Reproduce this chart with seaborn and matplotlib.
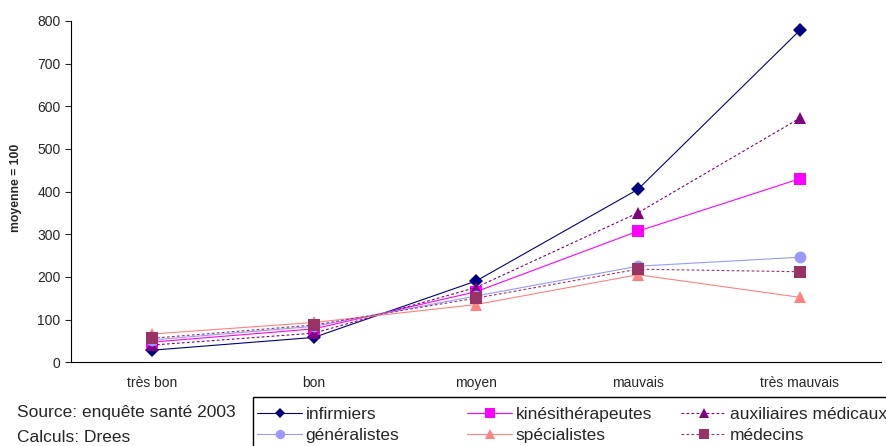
import matplotlib
matplotlib.use("Agg")
import matplotlib.pyplot as plt
from matplotlib.patches import Rectangle
import seaborn as sns
import pandas as pd

categories = ["très bon", "bon", "moyen", "mauvais", "très mauvais"]
infirmiers = [28, 58, 190, 405, 778]
kinesitherapeutes = [47, 78, 165, 307, 430]
auxiliaires = [40, 68, 175, 350, 572]
generalistes = [52, 84, 155, 225, 246]
specialistes = [66, 93, 135, 205, 152]
medecins = [56, 87, 150, 218, 212]

names = ["infirmiers", "kinésithérapeutes", "auxiliaires médicaux",
         "généralistes", "spécialistes", "médecins"]
series = [infirmiers, kinesitherapeutes, auxiliaires, generalistes, specialistes, medecins]

rows = []
for n, vals in zip(names, series):
    for i, v in enumerate(vals):
        rows.append({"pos": i, "val": v, "série": n})
df = pd.DataFrame(rows)

sns.set_style("white")
plt.rcParams["font.family"] = ["Liberation Sans", "DejaVu Sans"]

palette = {"infirmiers": "#000080", "kinésithérapeutes": "#FF00FF",
           "auxiliaires médicaux": "#800080", "généralistes": "#9999FF",
           "spécialistes": "#FF8080", "médecins": "#993366"}
markers = {"infirmiers": "D", "kinésithérapeutes": "s", "auxiliaires médicaux": "^",
           "généralistes": "o", "spécialistes": "^", "médecins": "s"}
dashes = {"infirmiers": "", "kinésithérapeutes": "", "auxiliaires médicaux": (2.5, 2),
          "généralistes": "", "spécialistes": "", "médecins": (2.5, 2)}
msize = {"infirmiers": 7, "kinésithérapeutes": 8.5, "auxiliaires médicaux": 9,
         "généralistes": 8.5, "spécialistes": 9, "médecins": 8.5}

fig = plt.figure(figsize=(8.87, 4.46), dpi=100)
ax = fig.add_axes([0.080, 0.188, 0.913, 0.765])

for n in names:
    sub = df[df["série"] == n]
    sns.lineplot(data=sub, x="pos", y="val", ax=ax, color=palette[n],
                 marker=markers[n], markersize=msize[n], markeredgewidth=0,
                 linewidth=0.8, dashes=False, label=n)
    line = ax.get_lines()[-1]
    if dashes[n]:
        line.set_dashes(dashes[n])

ax.set_xlim(-0.5, 4.5)
ax.set_ylim(0, 800)
ax.set_yticks(range(0, 801, 100))
ax.set_xticks(range(5))
ax.set_xticklabels(categories)
ax.set_xticks([0.5, 1.5, 2.5, 3.5, 4.5], minor=True)
ax.tick_params(axis="x", which="major", length=0, labelsize=10, pad=10)
ax.tick_params(axis="x", which="minor", length=4, width=0.8, color="#808080", direction="out")
ax.tick_params(axis="y", length=4, width=0.8, direction="out", labelsize=10, left=True)
ax.set_xlabel("")
ax.set_ylabel("moyenne = 100", fontsize=8.8, fontweight="bold")
ax.yaxis.set_label_coords(-0.061, 0.51)
for s in ["top", "right"]:
    ax.spines[s].set_visible(False)
for s in ["left", "bottom"]:
    ax.spines[s].set_color("black")
    ax.spines[s].set_linewidth(0.8)

handles, labels = ax.get_legend_handles_labels()
hmap = dict(zip(labels, handles))
for n in names:
    if dashes[n]:
        hmap[n].set_dashes(dashes[n])
if ax.get_legend():
    ax.get_legend().remove()

columns = [["infirmiers", "généralistes"],
           ["kinésithérapeutes", "spécialistes"],
           ["auxiliaires médicaux", "médecins"]]
col_x = [257 / 887, 467 / 887, 681 / 887]
yc = 1 - 425 / 446
for cx, col in zip(col_x, columns):
    fig.legend([hmap[c] for c in col], col, loc="center left",
               bbox_to_anchor=(cx, yc), bbox_transform=fig.transFigure,
               frameon=False, fontsize=12.5, handlelength=2.6,
               handletextpad=0.2, borderaxespad=0, borderpad=0,
               labelspacing=0.3, markerscale=0.8)

frame = Rectangle((253 / 887, -0.1), 0.75, 0.1 + (1 - 397 / 446),
                  transform=fig.transFigure, fill=False, edgecolor="black",
                  linewidth=1, clip_on=False)
fig.patches.append(frame)

fig.text(0.019, 1 - 413 / 446, "Source: enquête santé 2003", fontsize=12.5, va="center")
fig.text(0.019, 1 - 437 / 446, "Calculs: Drees", fontsize=12.5, va="center")

fig.savefig("out.png", dpi=100)
